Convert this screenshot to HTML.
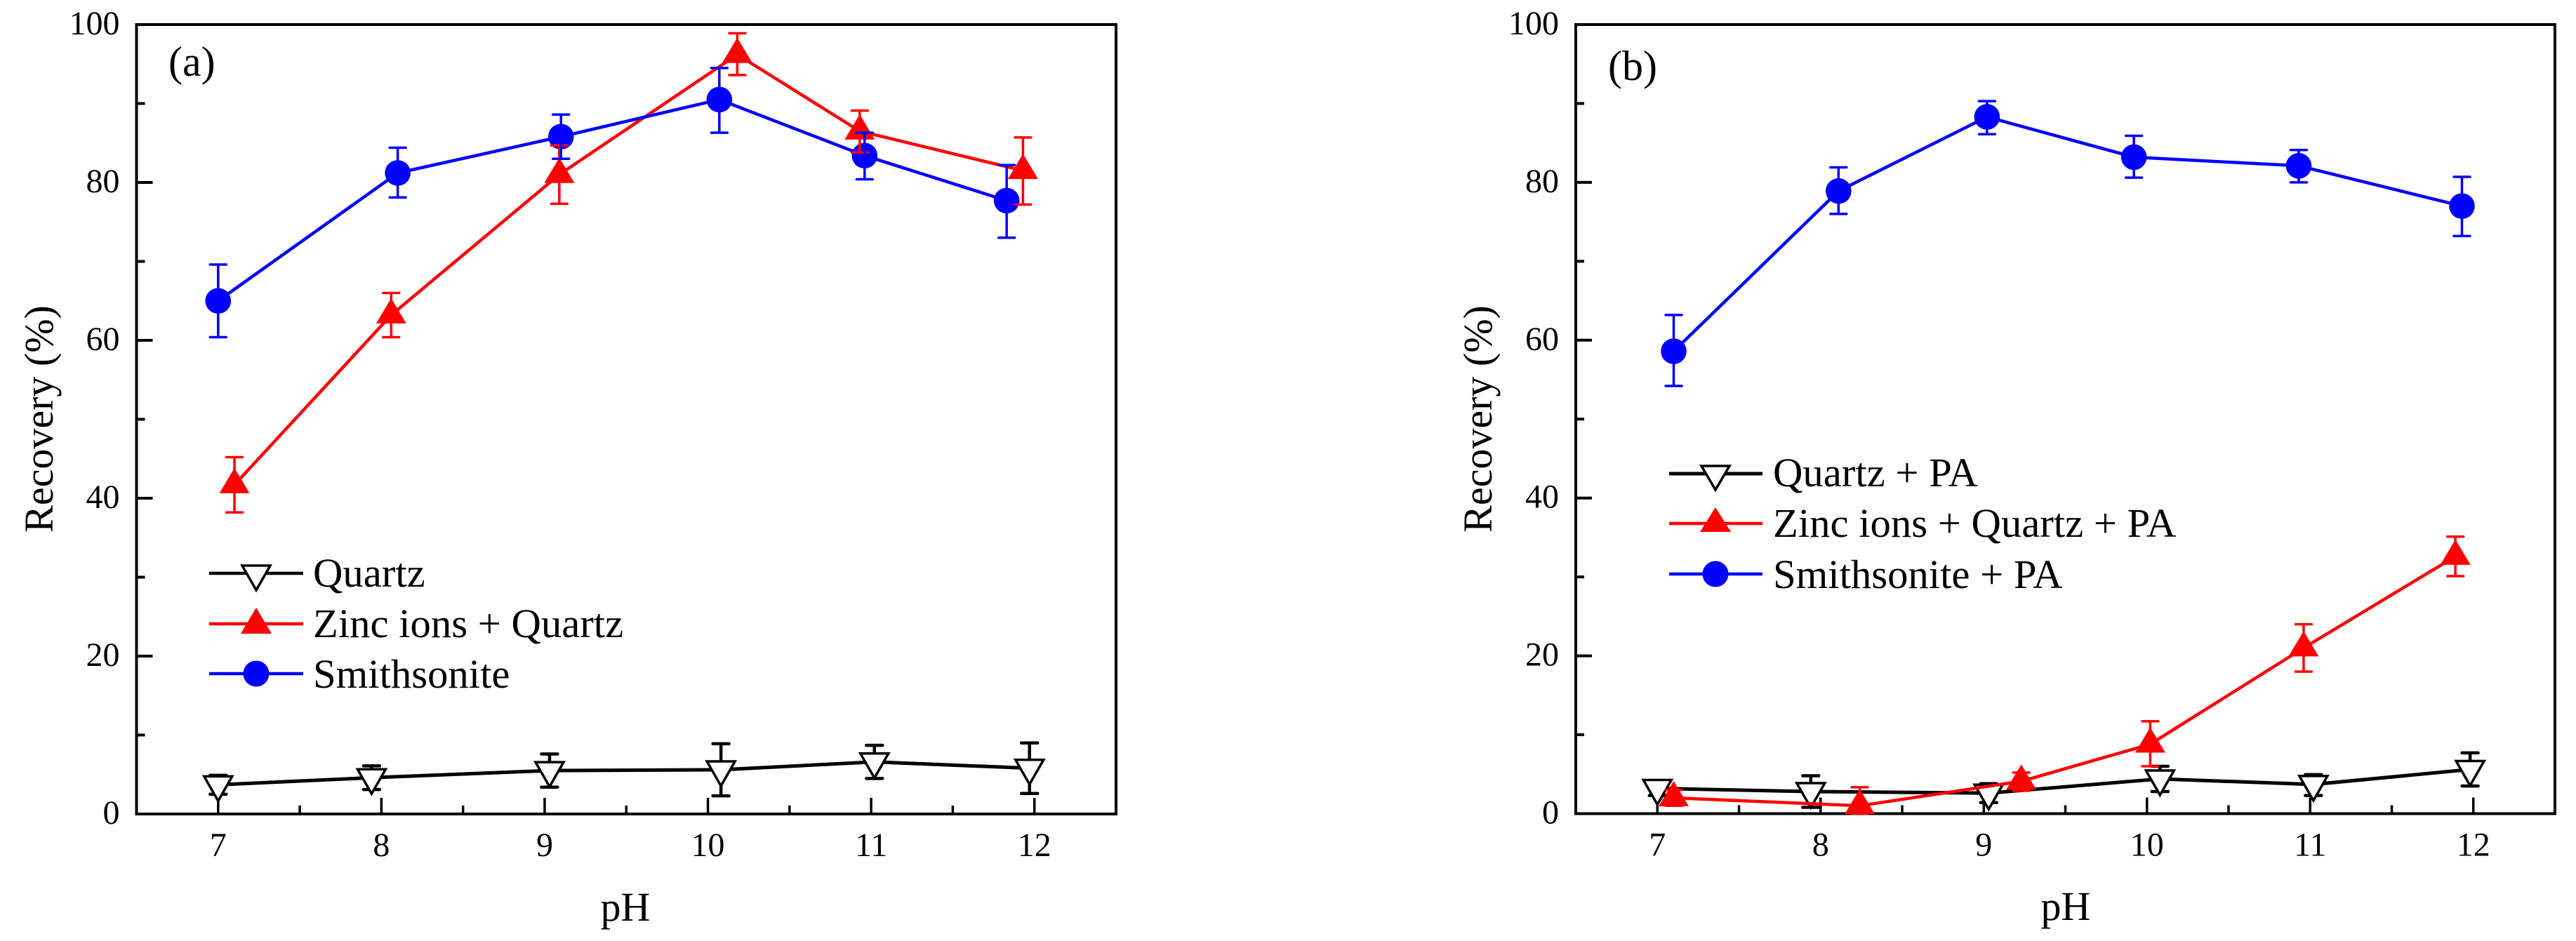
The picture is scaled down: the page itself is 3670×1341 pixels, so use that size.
<!DOCTYPE html>
<html lang="en">
<head>
<meta charset="utf-8">
<title>Recovery vs pH</title>
<style>
html,body{margin:0;padding:0;background:#fff;width:3670px;height:1341px;overflow:hidden}
svg{display:block;font-family:"Liberation Serif",serif;fill:#000}
</style>
</head>
<body>
<svg id="chart" xmlns="http://www.w3.org/2000/svg" width="3670" height="1341" viewBox="0 0 3670 1341">
  <rect x="0" y="0" width="3670" height="1341" fill="#fff"/>
  <g id="panel-a"></g>
  <g id="panel-b"></g>

  <text x="240" y="108" font-size="60">(a)</text>
  <text x="891" y="1312" font-size="58" text-anchor="middle">pH</text>
  <text transform="translate(75 597) rotate(-90)" font-size="58" text-anchor="middle">Recovery (%)</text>

  <text x="2291" y="114" font-size="60">(b)</text>
  <text x="2943" y="1311" font-size="58" text-anchor="middle">pH</text>
  <text transform="translate(2125 597) rotate(-90)" font-size="58" text-anchor="middle">Recovery (%)</text>

  <g>
    <g>
      <line x1="298" y1="817" x2="432" y2="817" stroke="#000" stroke-width="4.5"/>
      <polygon points="345,806 385,806 365,841" fill="#fff" stroke="#000" stroke-width="3.5"/>
      <text x="446" y="836" font-size="58.7">Quartz</text>
    </g>
    <g>
      <line x1="298" y1="889" x2="432" y2="889" stroke="#f00" stroke-width="4.5"/>
      <polygon points="365,866 387,903 343,903" fill="#f00"/>
      <text x="446" y="908" font-size="58.7">Zinc ions + Quartz</text>
    </g>
    <g>
      <line x1="298" y1="960" x2="432" y2="960" stroke="#00f" stroke-width="4.5"/>
      <circle cx="365" cy="960" r="18.5" fill="#00f"/>
      <text x="446" y="980" font-size="58.7">Smithsonite</text>
    </g>
  </g>

  <g>
    <g>
      <line x1="2378" y1="675" x2="2511" y2="675" stroke="#000" stroke-width="5"/>
      <polygon points="2424,664 2464,664 2444,698" fill="#fff" stroke="#000" stroke-width="3.5"/>
      <text x="2526" y="693" font-size="58.7">Quartz + PA</text>
    </g>
    <g>
      <line x1="2378" y1="746" x2="2511" y2="746" stroke="#f00" stroke-width="4.5"/>
      <polygon points="2444,723 2466,758 2422,758" fill="#f00"/>
      <text x="2526" y="765" font-size="58.7">Zinc ions + Quartz + PA</text>
    </g>
    <g>
      <line x1="2378" y1="818" x2="2511" y2="818" stroke="#00f" stroke-width="4.5"/>
      <circle cx="2444" cy="818" r="18.5" fill="#00f"/>
      <text x="2526" y="838" font-size="58.7">Smithsonite + PA</text>
    </g>
  </g>
</svg>

<script>
// Shared axis labels
const xTickLabels = [7, 8, 9, 10, 11, 12];
const xMinorTicks = [7.5, 8.5, 9.5, 10.5, 11.5];
const yTickLabels = [0, 20, 40, 60, 80, 100];
const yMinorTicks = [10, 30, 50, 70, 90];

// Panel (a) series
const aQuartzPH = [7.0, 7.94, 9.03, 10.08, 11.02, 11.97];
const aQuartzValues = [3.7, 4.6, 5.5, 5.6, 6.6, 5.8];
const aQuartzHigh = [4.9, 6.1, 7.6, 8.9, 8.7, 9.0];
const aQuartzLow = [2.5, 3.1, 3.4, 2.3, 4.5, 2.6];

const aZincPH = [7.10, 8.06, 9.09, 10.18, 10.93, 11.93];
const aZincValues = [41.7, 63.2, 81.0, 96.2, 86.5, 81.5];
const aZincHigh = [45.2, 66.0, 84.7, 98.9, 89.1, 85.7];
const aZincLow = [38.2, 60.4, 77.3, 93.6, 83.8, 77.2];

const aSmithPH = [7.0, 8.10, 9.10, 10.07, 10.96, 11.83];
const aSmithValues = [65.0, 81.2, 85.8, 90.5, 83.4, 77.7];
const aSmithHigh = [69.6, 84.4, 88.6, 94.5, 86.3, 82.2];
const aSmithLow = [60.4, 78.1, 83.0, 86.3, 80.4, 73.0];

// Panel (b) series
const bQuartzPH = [7.0, 7.94, 9.03, 10.08, 11.02, 11.98];
const bQuartzValues = [3.2, 2.8, 2.6, 4.4, 3.7, 5.6];
const bQuartzHigh = [4.1, 4.8, 3.8, 6.0, 4.95, 7.7];
const bQuartzLow = [2.3, 0.8, 1.4, 2.8, 2.3, 3.5];

const bZincPH = [7.10, 8.24, 9.23, 10.02, 10.96, 11.89];
const bZincValues = [2.0, 1.0, 4.1, 8.8, 21.0, 32.6];
const bZincHigh = [3.0, 3.35, 5.2, 11.7, 24.0, 35.1];
const bZincLow = [1.0, 0, 2.9, 6.0, 18.0, 30.1];

const bSmithPH = [7.10, 8.11, 9.02, 9.92, 10.93, 11.93];
const bSmithValues = [58.6, 78.9, 88.3, 83.2, 82.1, 77.0];
const bSmithHigh = [63.2, 81.9, 90.3, 85.9, 84.1, 80.7];
const bSmithLow = [54.2, 76.0, 86.1, 80.6, 80.0, 73.2];

const SVGNS = 'http://www.w3.org/2000/svg';

function make(parent, tag, attrs, text) {
  const el = document.createElementNS(SVGNS, tag);
  for (const k in attrs) el.setAttribute(k, attrs[k]);
  if (text !== undefined) el.textContent = text;
  parent.appendChild(el);
  return el;
}

function drawErrors(parent, xs, highs, lows, xScale, yScale, color, width) {
  xs.forEach(function (v, i) {
    const g = make(parent, 'g', {});
    
    
    const x = xScale(v), yt = yScale(highs[i]), yb = yScale(lows[i]);
    make(g, 'line', {x1: x, y1: yt, x2: x, y2: yb, stroke: color, 'stroke-width': width});
    make(g, 'line', {x1: x - 11.5, y1: yt, x2: x + 11.5, y2: yt, stroke: color, 'stroke-width': width, 'stroke-linecap': 'round'});
    make(g, 'line', {x1: x - 11.5, y1: yb, x2: x + 11.5, y2: yb, stroke: color, 'stroke-width': width, 'stroke-linecap': 'round'});
  });
}

function drawLine(parent, xs, vals, xScale, yScale, color, width) {
  const pts = xs.map(function (v, i) { return xScale(v) + ',' + yScale(vals[i]); }).join(' ');
  const line = make(parent, 'polyline', {points: pts, fill: 'none', stroke: color, 'stroke-width': width, 'stroke-linejoin': 'round'});
  
  
}

function drawMarkers(parent, kind, xs, vals, xScale, yScale) {
  xs.forEach(function (v, i) {
    const x = xScale(v), y = yScale(vals[i]);
    let m;
    if (kind === 'circle') {
      m = make(parent, 'circle', {cx: x, cy: y, r: 18.3, fill: '#00f'});
    } else if (kind === 'up') {
      const p = [x, y - 24, x + 21.5, y + 12, x - 21.5, y + 12].join(' ');
      m = make(parent, 'polygon', {points: p, fill: '#f00'});
    } else {
      const p = [x - 20, y - 12, x + 20, y - 12, x, y + 23].join(' ');
      m = make(parent, 'polygon', {points: p, fill: '#fff', stroke: '#000', 'stroke-width': 3.5});
    }
    
    
  });
}

function drawPanel(id, box, s) {
  const root = document.getElementById(id);
  const xScale = function (ph) { return box.left + (ph - 6.5) / 6 * (box.right - box.left); };
  const yScale = function (v) { return box.bottom - v / 100 * (box.bottom - box.top); };

  const axes = make(root, 'g', {});
  
  

  const frame = make(axes, 'rect', {x: box.left, y: box.top, width: box.right - box.left, height: box.bottom - box.top, fill: 'none', stroke: '#000', 'stroke-width': 4});
  
  

  xTickLabels.forEach(function (t) {
    const x = xScale(t);
    const tick = make(axes, 'line', {x1: x, y1: box.bottom, x2: x, y2: box.bottom - 23, stroke: '#000', 'stroke-width': 3.5});
    
    
    const label = make(axes, 'text', {x: x, y: box.bottom + 60, 'font-size': 48, 'text-anchor': 'middle'}, String(t));
    
    
  });
  xMinorTicks.forEach(function (t) {
    const x = xScale(t);
    const tick = make(axes, 'line', {x1: x, y1: box.bottom, x2: x, y2: box.bottom - 12, stroke: '#000', 'stroke-width': 3.5});
    
    
  });
  yTickLabels.forEach(function (t) {
    const y = yScale(t);
    const tick = make(axes, 'line', {x1: box.left, y1: y, x2: box.left + 23, y2: y, stroke: '#000', 'stroke-width': 4});
    
    
    const label = make(axes, 'text', {x: box.left - 24, y: y + 14, 'font-size': 48, 'text-anchor': 'end'}, String(t));
    
    
  });
  yMinorTicks.forEach(function (t) {
    const y = yScale(t);
    const tick = make(axes, 'line', {x1: box.left, y1: y, x2: box.left + 12, y2: y, stroke: '#000', 'stroke-width': 4});
    
    
  });

  const qG = make(root, 'g', {});
  
  
  drawErrors(qG, s.qx, s.qh, s.ql, xScale, yScale, '#000', 4.5);
  drawLine(qG, s.qx, s.qv, xScale, yScale, '#000', 5);
  drawMarkers(qG, 'down', s.qx, s.qv, xScale, yScale);

  const zG = make(root, 'g', {});
  
  
  drawLine(zG, s.zx, s.zv, xScale, yScale, '#f00', 4.5);
  drawMarkers(zG, 'up', s.zx, s.zv, xScale, yScale);

  const bG = make(root, 'g', {});
  
  
  drawLine(bG, s.bx, s.bv, xScale, yScale, '#00f', 4.5);
  drawMarkers(bG, 'circle', s.bx, s.bv, xScale, yScale);

  const eG = make(root, 'g', {});
  
  
  drawErrors(eG, s.zx, s.zh, s.zl, xScale, yScale, '#f00', 3.5);
  drawErrors(eG, s.bx, s.bh, s.bl, xScale, yScale, '#00f', 3.5);
}

drawPanel('panel-a', {left: 194.5, right: 1590, top: 35, bottom: 1160}, {
  qx: aQuartzPH, qv: aQuartzValues, qh: aQuartzHigh, ql: aQuartzLow,
  zx: aZincPH, zv: aZincValues, zh: aZincHigh, zl: aZincLow,
  bx: aSmithPH, bv: aSmithValues, bh: aSmithHigh, bl: aSmithLow
});
drawPanel('panel-b', {left: 2245, right: 3640, top: 35, bottom: 1159.5}, {
  qx: bQuartzPH, qv: bQuartzValues, qh: bQuartzHigh, ql: bQuartzLow,
  zx: bZincPH, zv: bZincValues, zh: bZincHigh, zl: bZincLow,
  bx: bSmithPH, bv: bSmithValues, bh: bSmithHigh, bl: bSmithLow
});
</script>
</body>
</html>
